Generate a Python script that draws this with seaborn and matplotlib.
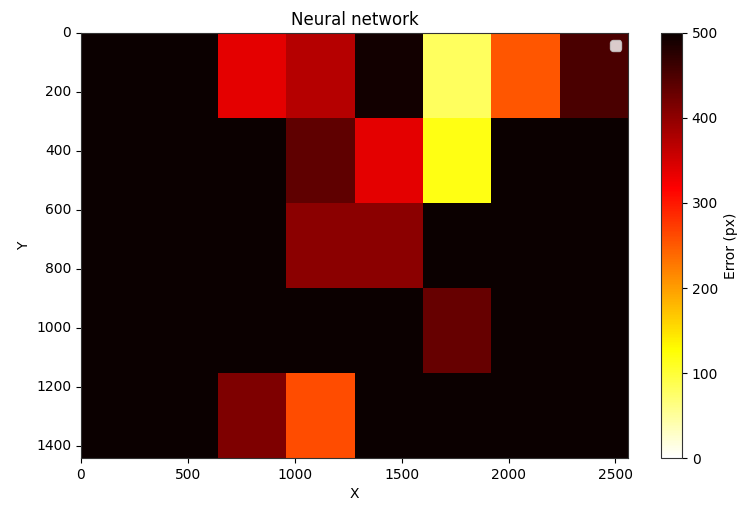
import numpy as np
import matplotlib
matplotlib.use("Agg")
import matplotlib.pyplot as plt
import seaborn as sns

# Frame size in pixels and error per grid cell (5 rows x 8 columns)
frame_w, frame_h = 2560, 1440
errors = np.array([
    [500, 500, 336, 373, 493,  82, 252, 452],
    [500, 500, 500, 436, 336, 118, 500, 500],
    [500, 500, 500, 403, 403, 500, 500, 500],
    [500, 500, 500, 500, 500, 430, 500, 500],
    [500, 500, 414, 261, 500, 500, 500, 500],
])
x_ticks = [0, 500, 1000, 1500, 2000, 2500]
y_ticks = [0, 200, 400, 600, 800, 1000, 1200, 1400]

n_rows, n_cols = errors.shape
cell_w = frame_w / n_cols
cell_h = frame_h / n_rows

fig = plt.figure(figsize=(7.39, 5.05), dpi=100)
ax = fig.add_axes([0.1096, 0.093, 0.7406, 0.8417])
cax = fig.add_axes([0.8945, 0.093, 0.0284, 0.8417])

sns.heatmap(errors, cmap="hot_r", vmin=0, vmax=500, ax=ax, cbar_ax=cax,
            cbar_kws={"label": "Error (px)"})

# pixel-coordinate ticks like imshow with extent
ax.set_xticks(np.array(x_ticks) / cell_w, [str(t) for t in x_ticks], rotation=0)
ax.set_yticks(np.array(y_ticks) / cell_h, [str(t) for t in y_ticks], rotation=0)
ax.tick_params(length=3.5, width=0.8)
for s in ax.spines.values():
    s.set_visible(True)
    s.set_linewidth(0.8)
    s.set_color("#333333")

cbar = ax.collections[0].colorbar
cbar.outline.set_linewidth(0.8)
cbar.outline.set_edgecolor("#333333")
cbar.set_ticks([0, 100, 200, 300, 400, 500])
cax.tick_params(length=3.5, width=0.8)

ax.set_title("Neural network")
ax.set_xlabel("X")
ax.set_ylabel("Y")
ax.legend(loc="upper right")

fig.savefig("out.png", dpi=100)
